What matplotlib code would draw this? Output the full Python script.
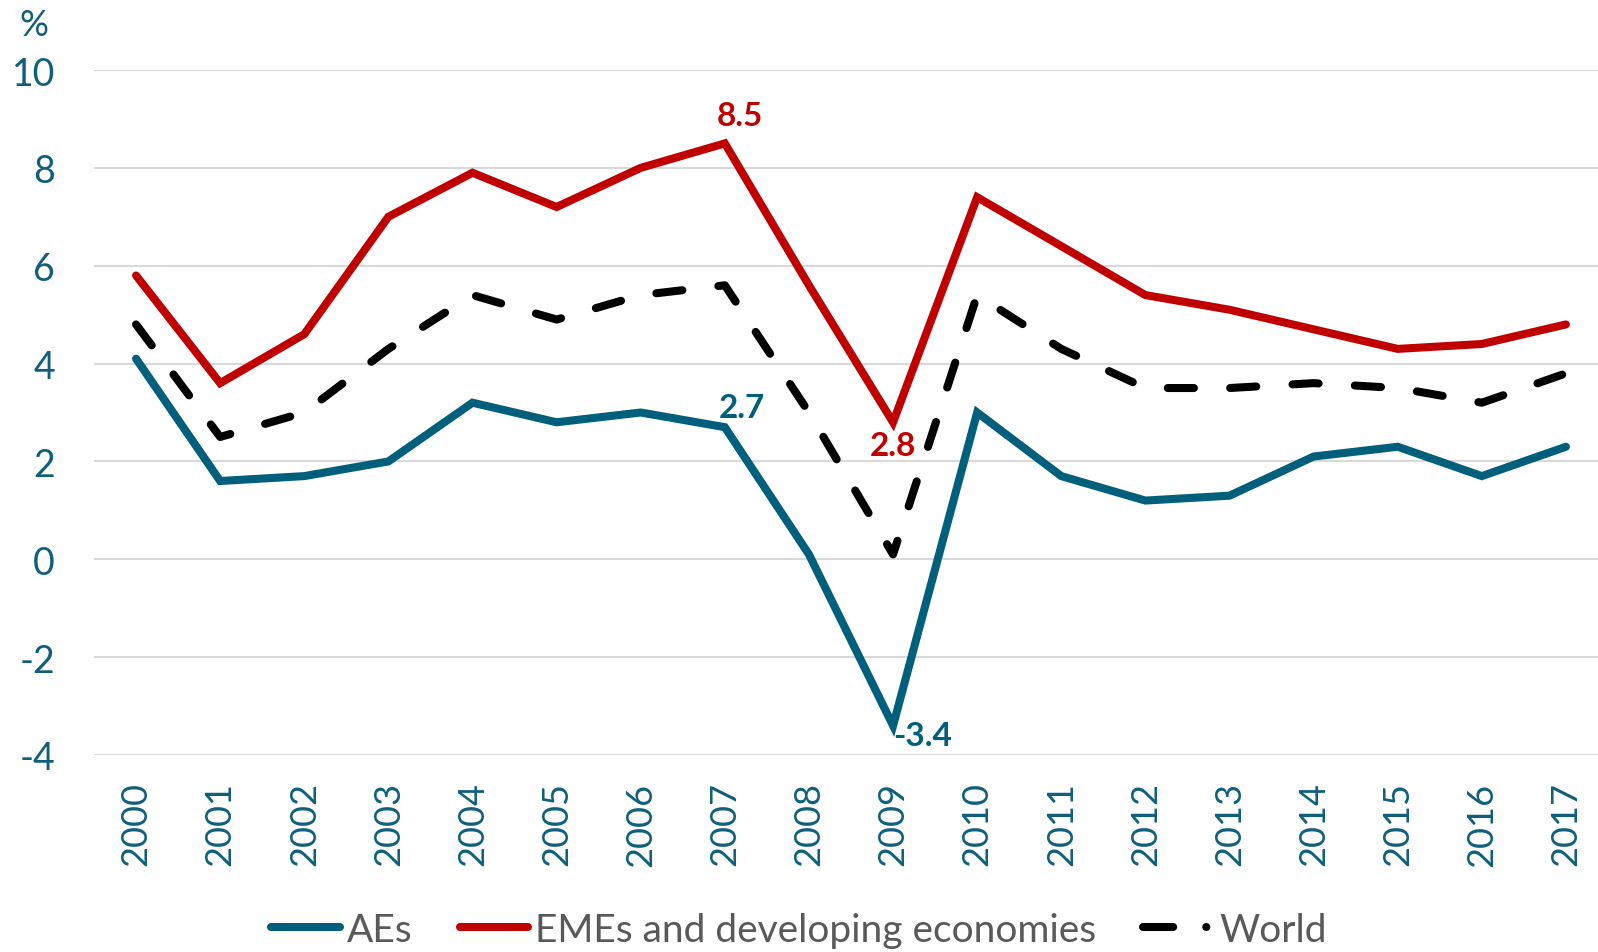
import matplotlib
matplotlib.use("Agg")
import matplotlib.pyplot as plt
from matplotlib.lines import Line2D

years = [str(y) for y in range(2000, 2018)]
aes = [4.1, 1.6, 1.7, 2.0, 3.2, 2.8, 3.0, 2.7, 0.1, -3.4, 3.0, 1.7, 1.2, 1.3, 2.1, 2.3, 1.7, 2.3]
emes = [5.8, 3.6, 4.6, 7.0, 7.9, 7.2, 8.0, 8.5, 5.6, 2.8, 7.4, 6.4, 5.4, 5.1, 4.7, 4.3, 4.4, 4.8]
world = [4.8, 2.5, 3.0, 4.3, 5.4, 4.9, 5.4, 5.6, 3.0, 0.1, 5.4, 4.3, 3.5, 3.5, 3.6, 3.5, 3.2, 3.8]
yticks = [-4, -2, 0, 2, 4, 6, 8, 10]
labels_series = ["AEs", "EMEs and developing economies", "World"]

TEAL = "#005F7A"
RED = "#C00000"
TICK = "#0F5F7C"
GRAY = "#595959"

plt.rcParams['font.family'] = ['Lato', 'DejaVu Sans']

fig = plt.figure(figsize=(15.98, 9.53), dpi=100)
ax = fig.add_axes([94/1598, 1 - 756/953, (1608 - 94)/1598, 685/953])

x = list(range(len(years)))
lw = 5.8
ax.plot(x, aes, color=TEAL, lw=lw, solid_capstyle='round', solid_joinstyle='miter', zorder=3)
ax.plot(x, emes, color=RED, lw=lw, solid_capstyle='round', solid_joinstyle='miter', zorder=3)
ax.plot(x, world, color='black', lw=lw, dashes=(3.25, 4.5), dash_capstyle='round', zorder=3)

ax.set_xlim(-0.5, len(years) - 0.5)
ax.set_ylim(-4, 10)
ax.set_yticks(yticks)
ax.set_yticklabels([str(v) for v in yticks])
ax.set_xticks(x)
ax.set_xticklabels(years, rotation=90)
ax.tick_params(axis='y', length=0, pad=28, labelsize=27, labelcolor=TICK)
ax.tick_params(axis='x', length=0, pad=19, labelsize=26, labelcolor=TICK)
for s in ax.spines.values():
    s.set_visible(False)
ax.yaxis.grid(True, color="#D9D9D9", lw=1.5)
ax.set_axisbelow(True)

# data labels
i07 = years.index("2007")
i09 = years.index("2009")
lab_kw = dict(textcoords='offset points', ha='center', va='center', fontsize=24,
              fontweight='bold', annotation_clip=False)
ax.annotate(f"{emes[i07]}", (x[i07], emes[i07]), xytext=(11, 20), color=RED, **lab_kw)
ax.annotate(f"{aes[i07]}", (x[i07], aes[i07]), xytext=(12.5, 14), color=TEAL, **lab_kw)
ax.annotate(f"{emes[i09]}", (x[i09], emes[i09]), xytext=(0, -17), color=RED, **lab_kw)
ax.annotate(f"{aes[i09]}", (x[i09], aes[i09]), xytext=(21, -7), color=TEAL, **lab_kw)

fig.text(34/1598, 1 - 25/953, "%", ha='center', va='center', fontsize=26, color=TICK)

handles = [
    Line2D([], [], color=TEAL, lw=lw, solid_capstyle='round'),
    Line2D([], [], color=RED, lw=lw, solid_capstyle='round'),
    Line2D([], [], color='black', lw=lw, dashes=(3.75, 4.1, 0.01, 20), dash_capstyle='round'),
]
leg = fig.legend(handles, labels_series, loc='center', bbox_to_anchor=(0.5, 1 - 931/953),
                 ncol=3, frameon=False, fontsize=28, handlelength=1.75, handletextpad=0.2,
                 columnspacing=1.2, labelcolor=GRAY)

fig.savefig("out.png", dpi=100)
